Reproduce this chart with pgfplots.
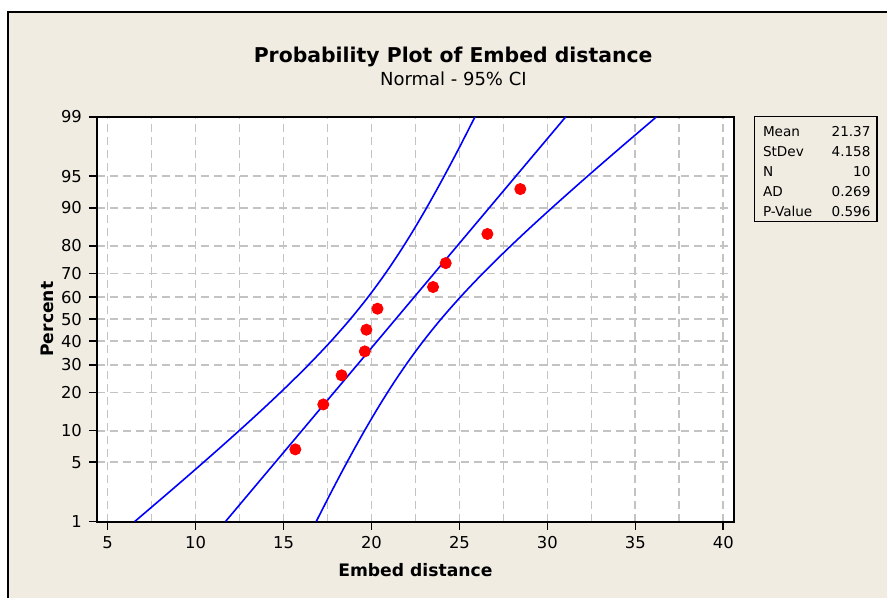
\documentclass[border=0pt]{standalone}
\usepackage{fontspec}
\setmainfont{DejaVu Sans}
\usepackage{pgfplots}
\usepackage{pgfplotstable}
\pgfplotsset{compat=1.18}

\definecolor{mtbeige}{RGB}{240,236,226}
\definecolor{mtgrid}{RGB}{195,195,195}

% y is the normal score of the percent
\pgfplotstableread{
z       lo      hi
-2.3263 6.540   16.857
-2.00   8.428   17.680
-1.75   9.858   18.329
-1.50   11.267  18.999
-1.25   12.650  19.695
-1.00   13.998  20.426
-0.75   15.299  21.204
-0.50   16.541  22.041
-0.25   17.709  22.952
0.00    18.793  23.947
0.25    19.788  25.031
0.50    20.699  26.199
0.75    21.536  27.441
1.00    22.314  28.742
1.25    23.045  30.090
1.50    23.741  31.473
1.75    24.411  32.882
2.00    25.060  34.312
2.3263  25.883  36.200
}\bands

\pgfplotstableread{
x      z
15.67  -1.4965
17.26  -0.9800
18.30  -0.6449
19.62  -0.3700
19.71  -0.1208
20.34   0.1208
23.50   0.3700
24.22   0.6449
26.59   0.9800
28.46   1.4965
}\pts

\begin{document}
\begin{tikzpicture}
\fill[white] (0pt,0pt) rectangle (444pt,299.5pt);
\fill[mtbeige] (4pt,0pt) rectangle (444pt,293.5pt);
\draw[black, line width=0.8pt] (4pt,0pt) -- (4pt,293.5pt) -- (444pt,293.5pt);

\begin{axis}[
    at={(48.5pt,38.5pt)}, anchor=south west,
    scale only axis,
    width=318.75pt, height=202.5pt,
    xmin=4.39, xmax=40.6,
    ymin=-2.3263, ymax=2.3263,
    axis background/.style={fill=white},
    axis line style={line width=1pt},
    xtick={5,10,...,40},
    minor xtick={7.5,12.5,...,37.5},
    ytick={-2.3263,-1.6449,-1.2816,-0.8416,-0.5244,-0.2533,0,0.2533,0.5244,0.8416,1.2816,1.6449,2.3263},
    yticklabels={1,5,10,20,30,40,50,60,70,80,90,95,99},
    xtick pos=bottom, ytick pos=left,
    tick align=outside,
    major tick length=4pt, minor tick length=0pt,
    tick style={black, line width=0.8pt},
    grid=both,
    major grid style={mtgrid, line width=0.85pt, dash pattern=on 4pt off 2.5pt},
    minor grid style={mtgrid, line width=0.85pt, dash pattern=on 4pt off 2.5pt},
    /pgf/number format/assume math mode=true,
    ticklabel style={font=\fontsize{8.2}{10}\selectfont},
    xlabel={Embed distance},
    ylabel={Percent},
    label style={font=\fontsize{8.6}{10}\selectfont\bfseries},
    xlabel style={at={(axis description cs:0.5,-0.121)}, anchor=center},
    ylabel style={at={(axis description cs:-0.0776,0.5)}, anchor=center},
]
\addplot[blue, line width=0.8pt, smooth] table[x=lo, y=z] {\bands};
\addplot[blue, line width=0.8pt, smooth] table[x=hi, y=z] {\bands};
\addplot[blue, line width=0.8pt] coordinates {(11.70,-2.3263) (31.04,2.3263)};
\addplot[only marks, mark=*, mark size=2.8pt, red, mark options={fill=red, draw=red}] table[x=x, y=z] {\pts};
\end{axis}

\node[font=\fontsize{10.2}{12}\selectfont\bfseries, anchor=base] at (226.75pt,268.15pt) {Probability Plot of Embed distance};
\node[font=\fontsize{9}{11}\selectfont, anchor=base] at (226.9pt,256.5pt) {Normal - 95\% CI};

\draw[black, line width=0.6pt] (377.5pt,241.15pt) rectangle (438.85pt,188.65pt);
\foreach \lab/\val/\yy in {Mean/21.37/231, StDev/4.158/221, N/10/211, AD/0.269/201, P-Value/0.596/191}{
  \node[font=\fontsize{6.8}{8}\selectfont, anchor=base west, inner sep=0pt] at (381.65pt,\yy pt) {\lab};
  \node[font=\fontsize{6.8}{8}\selectfont, anchor=base east, inner sep=0pt] at (435.85pt,\yy pt) {\val};
}
\end{tikzpicture}
\end{document}
